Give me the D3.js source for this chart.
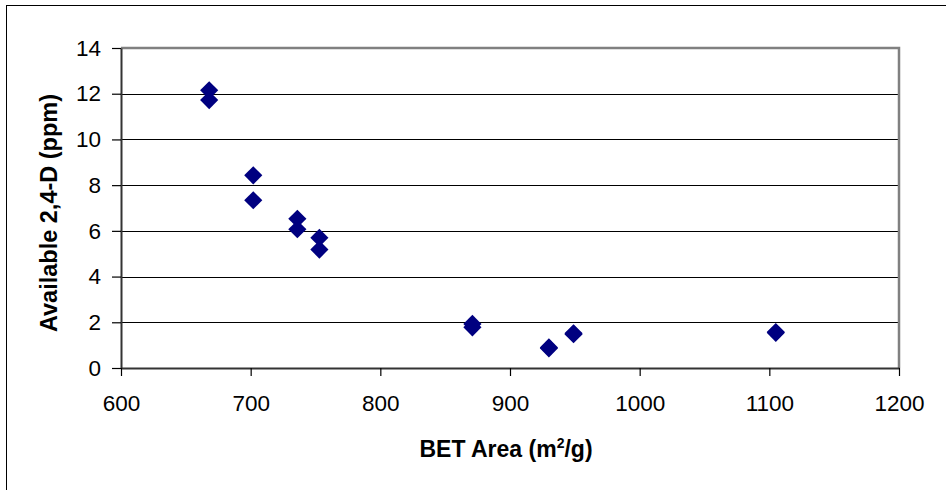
<!DOCTYPE html>
<html>
<head>
<meta charset="utf-8">
<script src="https://cdn.jsdelivr.net/npm/d3@7"></script>
<style>
  html, body { margin: 0; padding: 0; background: #fff; }
  svg { display: block; font-family: "Liberation Sans", Arial, sans-serif; }
</style>
</head>
<body>
<svg id="chart" width="946" height="490"></svg>
<script>
// BET surface area of each sample (m2/g), two replicate measurements per sample
const betArea = [668, 668, 702, 702, 736, 736, 753, 753, 871, 871, 930, 930, 949, 949, 1105, 1105];
// Available 2,4-D measured for each replicate (ppm)
const available24D = [12.15, 11.72, 8.43, 7.34, 6.53, 6.07, 5.70, 5.18, 1.93, 1.78, 0.90, 0.86, 1.52, 1.48, 1.57, 1.54];
const xTicks = [600, 700, 800, 900, 1000, 1100, 1200];
const yTicks = [0, 2, 4, 6, 8, 10, 12, 14];

const points = betArea.map((x, i) => ({ x, y: available24D[i] }));

const svg = d3.select("#chart");
const plot = { left: 121, right: 899, top: 48, bottom: 368 };

const x = d3.scaleLinear().domain([600, 1200]).range([plot.left, plot.right]);
const y = d3.scaleLinear().domain([0, 14]).range([plot.bottom, plot.top]);

// outer chart frame (left and top edges fall inside the page)
svg.append("rect")
  .attr("x", 6.5).attr("y", 5.5)
  .attr("width", 1000).attr("height", 1000)
  .attr("fill", "none").attr("stroke", "#000").attr("stroke-width", 1);

// horizontal gridlines
svg.append("g")
  .selectAll("line")
  .data(yTicks.filter(t => t > 0 && t < 14))
  .join("line")
  .attr("x1", plot.left).attr("x2", plot.right)
  .attr("y1", d => Math.round(y(d)) + 0.5).attr("y2", d => Math.round(y(d)) + 0.5)
  .attr("stroke", "#000").attr("stroke-width", 1);

// plot-area border on top and right (grey)
svg.append("path")
  .attr("d", `M${plot.left},${plot.top} H${plot.right} V${plot.bottom}`)
  .attr("fill", "none").attr("stroke", "#808080").attr("stroke-width", 2.5);

// y axis
const yAxis = d3.axisLeft(y).tickValues(yTicks).tickFormat(d3.format("d"))
  .tickSize(9).tickPadding(11).tickSizeOuter(0);
const gy = svg.append("g").attr("transform", `translate(${plot.left},0)`).call(yAxis);
gy.select(".domain").attr("stroke", "#333").attr("stroke-width", 2);
gy.selectAll(".tick line").attr("stroke", "#000").attr("stroke-width", 1.2);
gy.selectAll(".tick text")
  .attr("font-size", 22.5).attr("fill", "#000")
  .attr("font-family", "Liberation Sans, Arial, sans-serif");

// x axis
const xAxis = d3.axisBottom(x).tickValues(xTicks).tickFormat(d3.format("d"))
  .tickSize(8).tickPadding(19).tickSizeOuter(0);
const gx = svg.append("g").attr("transform", `translate(0,${plot.bottom})`).call(xAxis);
gx.select(".domain").attr("stroke", "#333").attr("stroke-width", 2);
gx.selectAll(".tick line").attr("stroke", "#000").attr("stroke-width", 1.2);
gx.selectAll(".tick text")
  .attr("font-size", 22.5).attr("fill", "#000")
  .attr("font-family", "Liberation Sans, Arial, sans-serif");

// data markers: navy diamonds
const diamond = d3.symbol().type(d3.symbolSquare).size(165);
svg.append("g")
  .selectAll("path")
  .data(points)
  .join("path")
  .attr("d", diamond)
  .attr("transform", d => `translate(${x(d.x)},${y(d.y)}) rotate(45)`)
  .attr("fill", "#000080");

// axis titles
const xTitle = svg.append("text")
  .attr("x", 506).attr("y", 457)
  .attr("text-anchor", "middle")
  .attr("font-size", 23).attr("font-weight", "bold").attr("fill", "#000");
xTitle.append("tspan").text("BET Area (m");
xTitle.append("tspan").attr("font-size", 14).attr("dy", -9).text("2");
xTitle.append("tspan").attr("dy", 9).text("/g)");

svg.append("text")
  .attr("transform", `translate(57,${(plot.top + plot.bottom) / 2 + 5}) rotate(-90)`)
  .attr("text-anchor", "middle")
  .attr("font-size", 23.5).attr("font-weight", "bold").attr("fill", "#000")
  .text("Available 2,4-D (ppm)");
</script>
</body>
</html>
